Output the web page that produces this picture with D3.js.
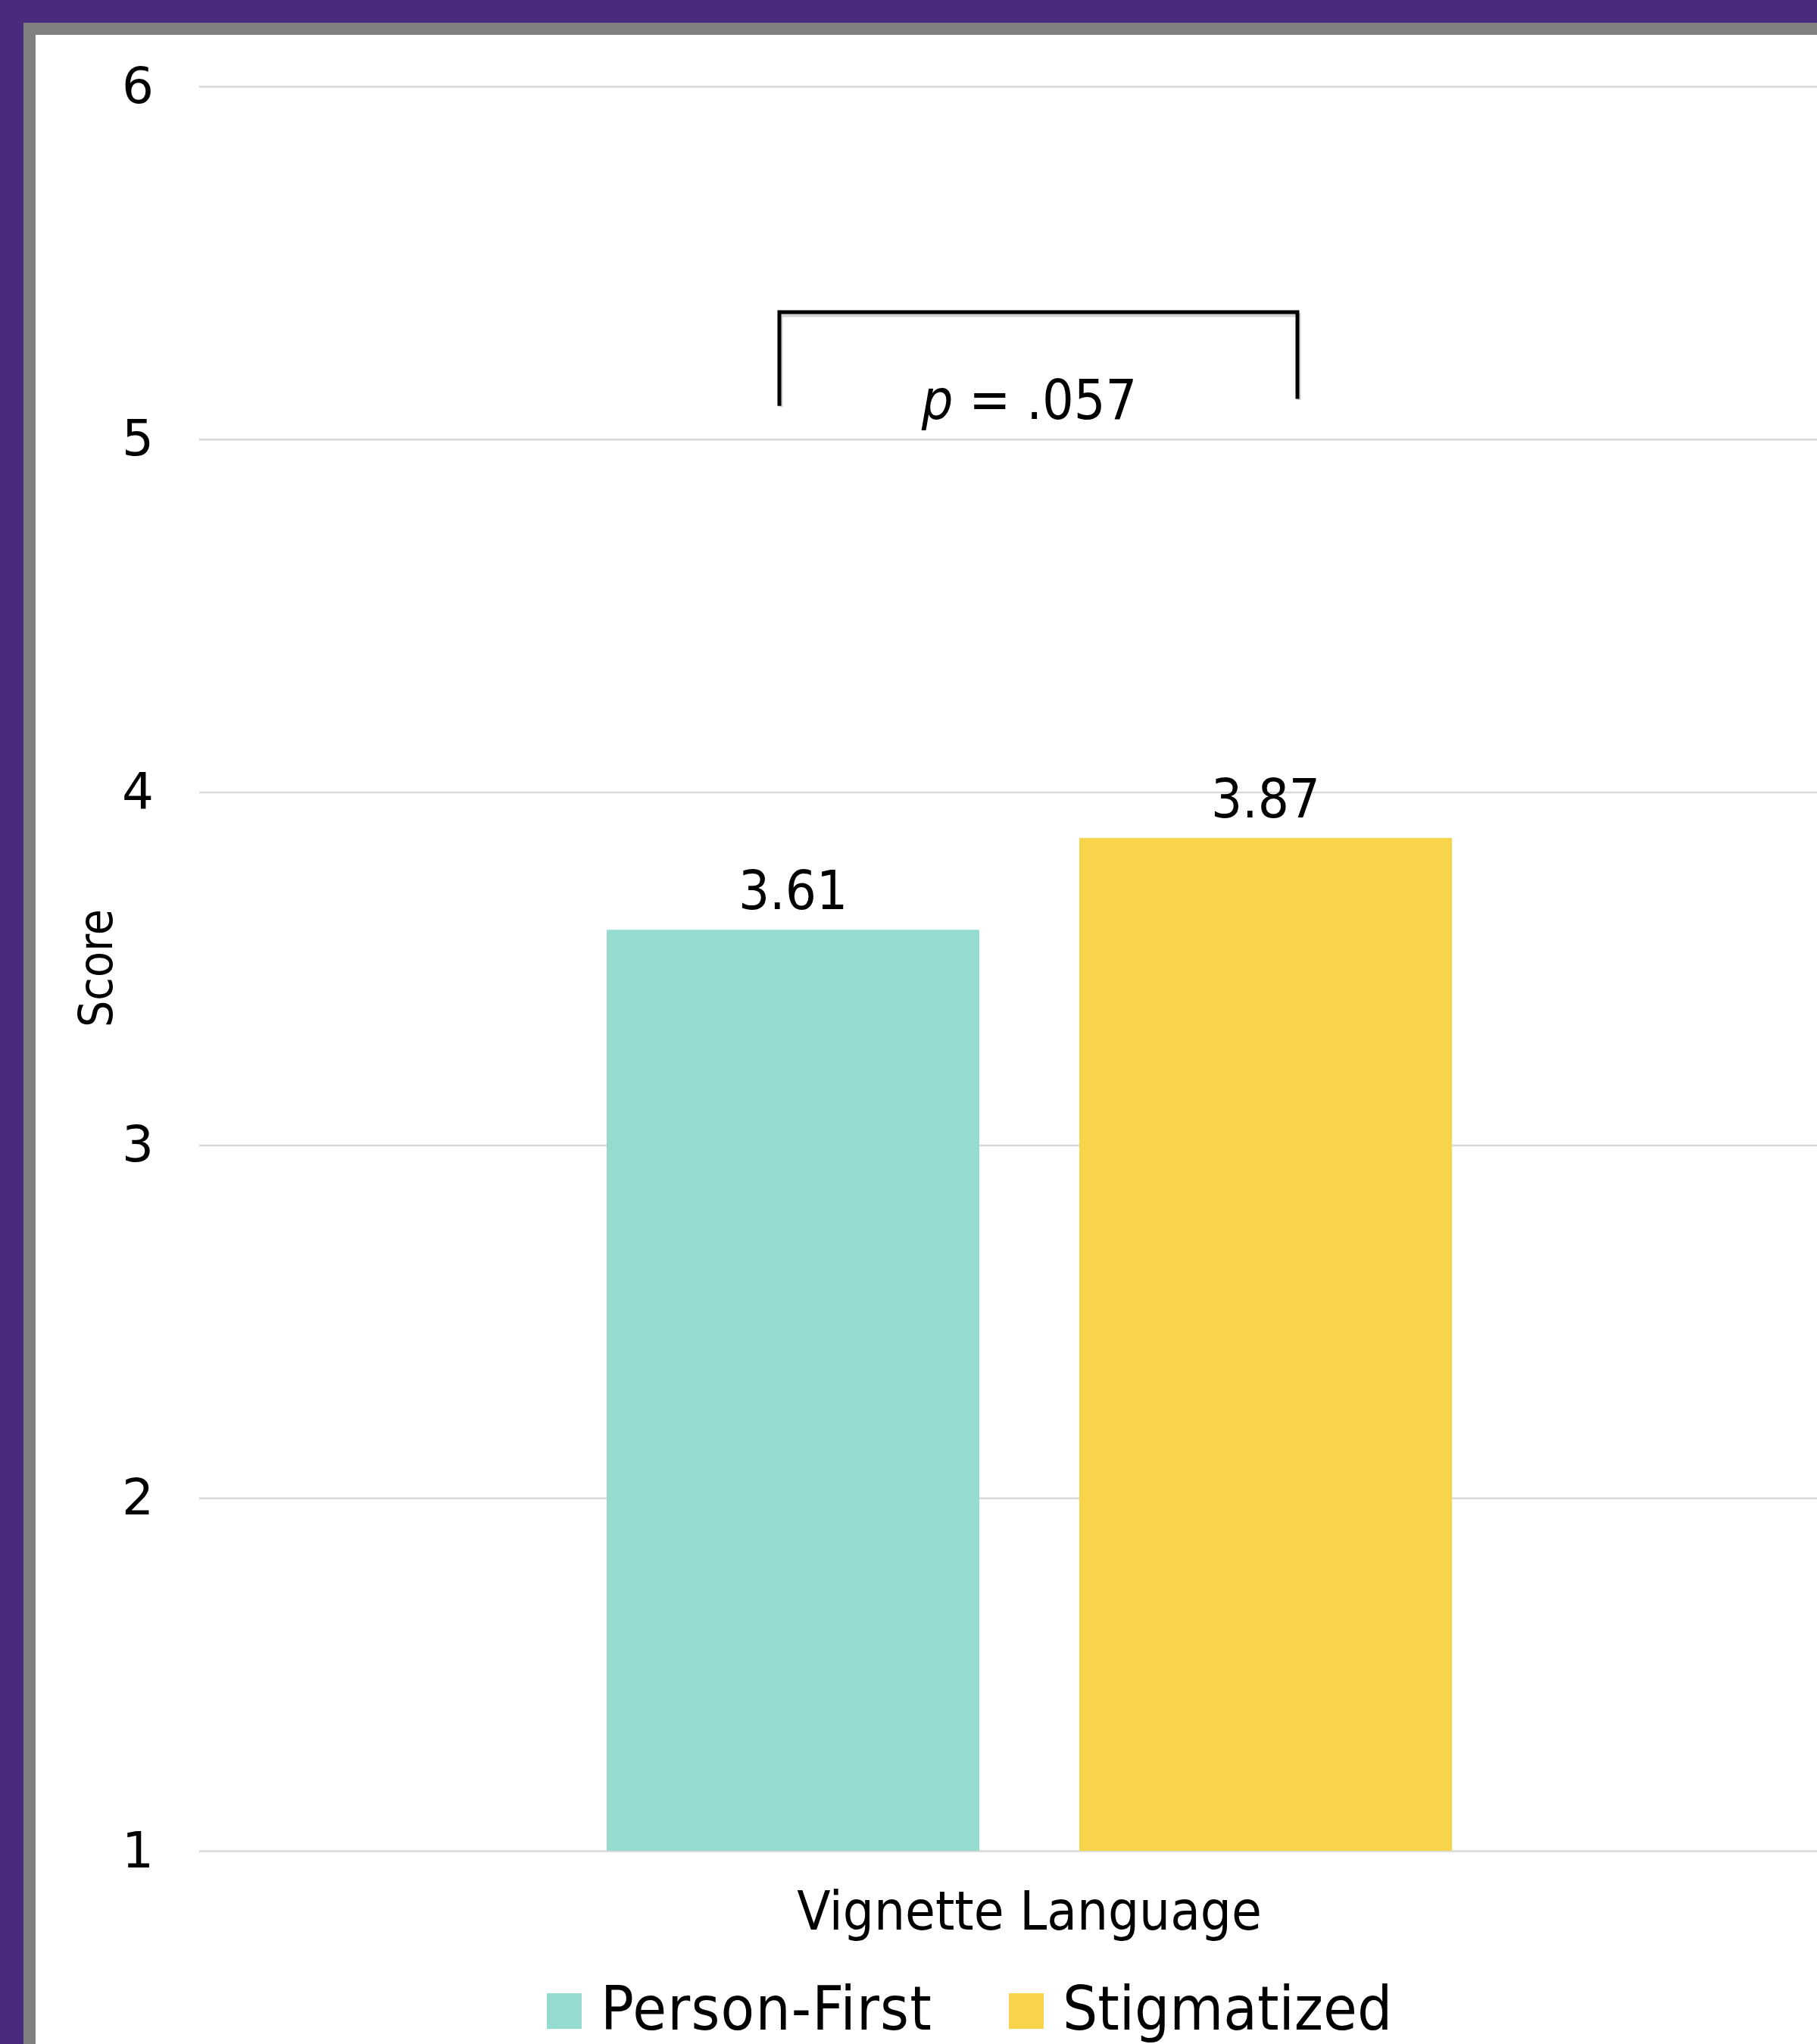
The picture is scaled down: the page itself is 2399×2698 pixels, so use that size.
<!DOCTYPE html>
<html>
<head>
<meta charset="utf-8">
<script src="https://cdn.jsdelivr.net/npm/d3@7"></script>
<style>
  html, body { margin: 0; padding: 0; background: #ffffff; }
  svg { display: block; }
  text { font-family: "DejaVu Sans Condensed", "DejaVu Sans", sans-serif; font-stretch: condensed; fill: #000; }
</style>
</head>
<body>
<svg id="chart" width="2399" height="2698"></svg>
<script>
// ---- data ----
const category = ["Vignette Language"];
const seriesNames = ["Person-First", "Stigmatized"];
const seriesValues = [3.61, 3.87];
const seriesColors = ["#96DBD0", "#F7D44A"];
const yTicks = [1, 2, 3, 4, 5, 6];
const yTitle = "Score";
const pLabel = ".057";
const bracketTop = 5.36;          // value level of bracket top
const bracketLegs = [5.10, 5.12]; // value level of leg ends

// ---- layout ----
const W = 2399, H = 2698;
const plot = { left: 263, right: 2455, top: 114, bottom: 2443 };

const svg = d3.select("#chart");

// frame
svg.append("rect").attr("x", 0).attr("y", 0).attr("width", W).attr("height", H).attr("fill", "#482B7C");
svg.append("rect").attr("x", 31).attr("y", 30).attr("width", W).attr("height", H).attr("fill", "#808080");
svg.append("rect").attr("x", 47).attr("y", 46).attr("width", W).attr("height", H).attr("fill", "#ffffff");

// scales
const y = d3.scaleLinear().domain([1, 6]).range([plot.bottom, plot.top]);
const x0 = d3.scaleBand().domain(category).range([plot.left, plot.right]).paddingOuter(0.2455).paddingInner(0);
const groupW = 1116;
const groupStart = x0(category[0]) + (x0.bandwidth() - groupW) / 2;
const x1 = d3.scaleBand().domain(seriesNames).range([groupStart, groupStart + groupW]).paddingInner(0.2115).paddingOuter(0);

// gridlines + y axis
const yAxis = d3.axisLeft(y).tickValues(yTicks).tickFormat(d3.format("d"))
  .tickSize(-(plot.right - plot.left)).tickPadding(60);
const gy = svg.append("g").attr("transform", `translate(${plot.left},0)`).call(yAxis);
gy.select(".domain").remove();
gy.selectAll(".tick line").attr("stroke", "#D9D9D9").attr("stroke-width", 2.5);
gy.selectAll(".tick text").attr("font-size", 66).attr("fill", "#000")
  .style("font-family", '"DejaVu Sans", sans-serif').style("font-stretch", "normal");

// bars
const data = seriesNames.map((s, i) => ({ name: s, value: seriesValues[i], color: seriesColors[i] }));
svg.append("g").selectAll("rect").data(data).join("rect")
  .attr("x", d => x1(d.name))
  .attr("y", d => y(d.value))
  .attr("width", x1.bandwidth())
  .attr("height", d => y(1) - y(d.value))
  .attr("fill", d => d.color);

// value labels
svg.append("g").selectAll("text").data(data).join("text")
  .attr("x", d => x1(d.name) + x1.bandwidth() / 2)
  .attr("y", d => y(d.value) - 27)
  .attr("text-anchor", "middle")
  .attr("font-size", 72)
  .text(d => d3.format(".2f")(d.value));

// significance bracket
const c1 = x1(seriesNames[0]) + x1.bandwidth() / 2 - 18;
const c2 = x1(seriesNames[1]) + x1.bandwidth() / 2 + 42;
const bracketPath = d3.path();
bracketPath.moveTo(c1, y(bracketLegs[0]));
bracketPath.lineTo(c1, y(bracketTop));
bracketPath.lineTo(c2, y(bracketTop));
bracketPath.lineTo(c2, y(bracketLegs[1]));
svg.append("path").attr("d", bracketPath.toString()).attr("fill", "none")
  .attr("stroke", "#aaaaaa").attr("stroke-width", 5).attr("transform", "translate(2,4)").attr("opacity", 0.5);
svg.append("path").attr("d", bracketPath.toString()).attr("fill", "none")
  .attr("stroke", "#000").attr("stroke-width", 5).attr("stroke-linecap", "square");

const pText = svg.append("text")
  .attr("x", (x1(seriesNames[0]) + x1(seriesNames[1]) + x1.bandwidth()) / 2)
  .attr("y", 553)
  .attr("text-anchor", "middle")
  .attr("font-size", 73);
pText.append("tspan").attr("font-style", "italic").text("p");
pText.append("tspan").text(" = " + pLabel);

// x axis title
svg.append("text")
  .attr("x", x0(category[0]) + x0.bandwidth() / 2)
  .attr("y", 2547)
  .attr("text-anchor", "middle")
  .attr("font-size", 72)
  .text(category[0]);

// y axis title
svg.append("text")
  .attr("transform", `translate(148,1278) rotate(-90)`)
  .attr("text-anchor", "middle")
  .attr("font-size", 62)
  .text(yTitle);

// legend
const legendX = [722, 1332];
const lg = svg.append("g").selectAll("g").data(data).join("g")
  .attr("transform", (d, i) => `translate(${legendX[i]},2631)`);
lg.append("rect").attr("width", 46).attr("height", 47).attr("fill", d => d.color);
lg.append("text").attr("x", 71).attr("y", 48).attr("font-size", 81)
  .attr("letter-spacing", (d, i) => i === 0 ? 1.2 : 0)
  .text(d => d.name);
</script>
</body>
</html>
